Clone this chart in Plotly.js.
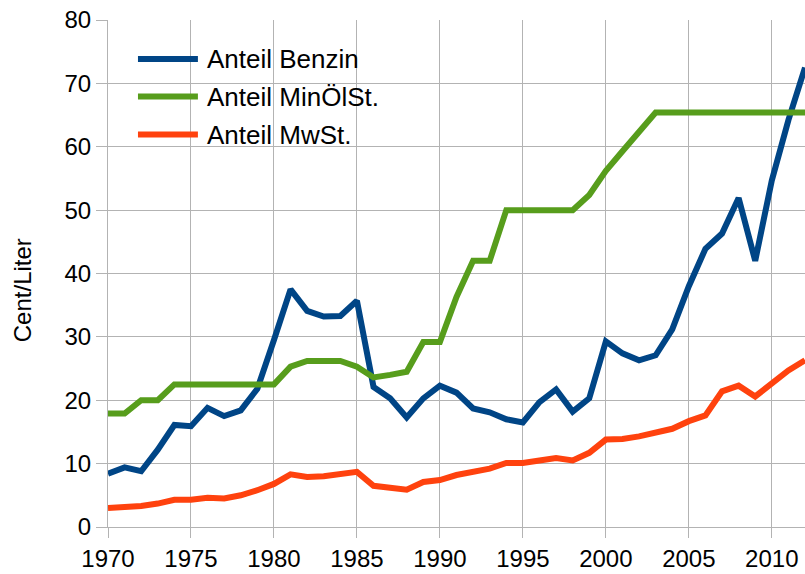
<!DOCTYPE html>
<html>
<head>
<meta charset="utf-8">
<script src="https://cdn.plot.ly/plotly-3.0.1.min.js"></script>
<style>
  html, body { margin: 0; padding: 0; background: #fff; }
  #chart { width: 805px; height: 574px; }
</style>
</head>
<body>
<div id="chart"></div>
<script>
// Jahre und Anteile am Benzinpreis (Cent/Liter)
const years = [1970, 1971, 1972, 1973, 1974, 1975, 1976, 1977, 1978, 1979,
               1980, 1981, 1982, 1983, 1984, 1985, 1986, 1987, 1988, 1989,
               1990, 1991, 1992, 1993, 1994, 1995, 1996, 1997, 1998, 1999,
               2000, 2001, 2002, 2003, 2004, 2005, 2006, 2007, 2008, 2009,
               2010, 2011, 2012]

const benzin = [8.4, 9.4, 8.8, 12.2, 16.1, 15.9, 18.8, 17.5, 18.4, 21.8,
                29.5, 37.5, 34.1, 33.2, 33.3, 35.7, 22.1, 20.3, 17.3, 20.3,
                22.3, 21.2, 18.7, 18.1, 17.0, 16.5, 19.7, 21.7, 18.2, 20.3,
                29.3, 27.4, 26.3, 27.1, 31.2, 38.0, 43.9, 46.3, 51.9, 42.0,
                54.7, 64.2, 72.5]

const minoelst = [17.9, 17.9, 20.0, 20.0, 22.5, 22.5, 22.5, 22.5, 22.5, 22.5,
                  22.5, 25.3, 26.2, 26.2, 26.2, 25.3, 23.6, 24.0, 24.5, 29.2,
                  29.2, 36.3, 42.0, 42.0, 50.0, 50.0, 50.0, 50.0, 50.0, 52.4,
                  56.2, 59.3, 62.4, 65.4, 65.4, 65.4, 65.4, 65.4, 65.4, 65.4,
                  65.4, 65.4, 65.4]

const mwst = [3.0, 3.1, 3.3, 3.7, 4.3, 4.3, 4.6, 4.5, 5.0, 5.8,
              6.8, 8.3, 7.9, 8.0, 8.4, 8.7, 6.5, 6.3, 5.9, 7.1,
              7.4, 8.2, 8.7, 9.2, 10.1, 10.1, 10.5, 10.9, 10.5, 11.7,
              13.8, 13.9, 14.3, 14.9, 15.5, 16.7, 17.6, 21.4, 22.3, 20.6,
              22.7, 24.7, 26.3]

const names = ['Anteil Benzin', 'Anteil MinÖlSt.', 'Anteil MwSt.']
const colors = ['#004586', '#579d1c', '#ff420e']
const series = [benzin, minoelst, mwst]

const gridCol = '#b3b3b3'
const fontFam = '"Liberation Sans", Arial, sans-serif'

const traces = series.map((ys, i) => ({
    x: years,
    y: ys,
    type: 'scatter',
    mode: 'lines',
    name: names[i],
    line: { color: colors[i], width: 6 },
    showlegend: false
}))

// legend drawn by hand (LibreOffice style, long line samples)
const legY = [0.923, 0.849, 0.774]
const shapes = names.map((n, i) => ({
    type: 'line', xref: 'paper', yref: 'paper',
    x0: 0.043, x1: 0.129, y0: legY[i], y1: legY[i],
    line: { color: colors[i], width: 6 }
}))
const annotations = names.map((n, i) => ({
    text: n, xref: 'paper', yref: 'paper',
    x: 0.139, y: legY[i], xanchor: 'left', yanchor: 'middle',
    showarrow: false,
    font: { size: 26, color: '#000', family: fontFam }
}))
// y axis title, sits a bit below the plot centre like in LibreOffice
annotations.push({
    text: 'Cent/Liter', xref: 'paper', yref: 'paper',
    x: -0.1234, y: 0.467, xanchor: 'center', yanchor: 'middle',
    textangle: -90, showarrow: false,
    font: { size: 24, color: '#000', family: fontFam }
})

const layout = {
    width: 805,
    height: 574,
    margin: { l: 108, r: 0, t: 20, b: 47 },
    paper_bgcolor: '#fff',
    plot_bgcolor: '#fff',
    font: { family: fontFam, color: '#000' },
    showlegend: false,
    xaxis: {
        range: [1970, 2012],
        tickvals: [1970, 1975, 1980, 1985, 1990, 1995, 2000, 2005, 2010],
        showgrid: true,
        gridcolor: gridCol,
        gridwidth: 1,
        showline: true,
        linecolor: gridCol,
        zeroline: false,
        ticks: 'outside',
        ticklen: 10,
        tickcolor: gridCol,
        tickfont: { size: 24, color: '#000' }
    },
    yaxis: {
        range: [0, 80],
        dtick: 10,
        showgrid: true,
        gridcolor: gridCol,
        gridwidth: 1,
        showline: true,
        linecolor: gridCol,
        zeroline: false,
        ticks: 'outside',
        ticklen: 11,
        tickcolor: gridCol,
        tickfont: { size: 24, color: '#000' }
    },
    shapes: shapes,
    annotations: annotations
}

Plotly.newPlot('chart', traces, layout, { staticPlot: true })
</script>
</body>
</html>
